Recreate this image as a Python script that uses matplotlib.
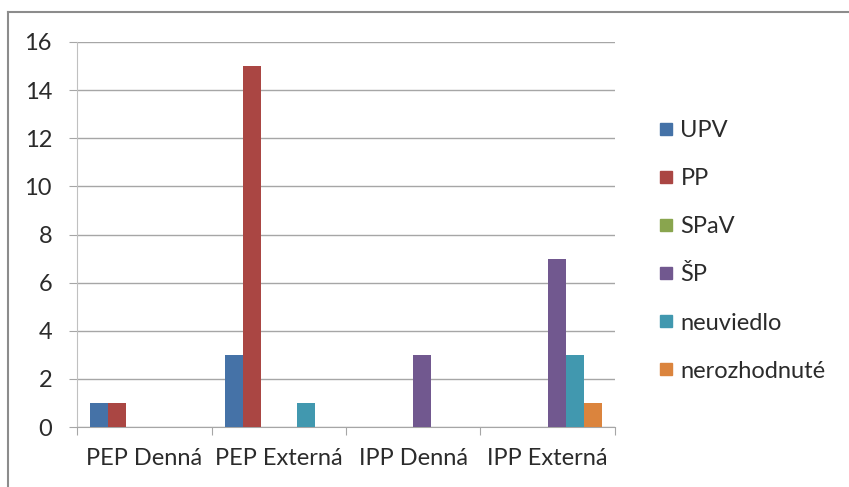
import numpy as np
import matplotlib.pyplot as plt
from matplotlib.lines import Line2D

plt.rcParams['font.family'] = ['Lato', 'DejaVu Sans']

categories = ['PEP Denná', 'PEP Externá', 'IPP Denná', 'IPP Externá']
series = ['UPV', 'PP', 'SPaV', 'ŠP', 'neuviedlo', 'nerozhodnuté']
upv = [1, 3, 0, 0]
pp = [1, 15, 0, 0]
spav = [0, 0, 0, 0]
sp = [0, 0, 3, 7]
neuviedlo = [0, 1, 0, 3]
nerozhodnute = [0, 0, 0, 1]
values = [upv, pp, spav, sp, neuviedlo, nerozhodnute]
colors = ['#4572A7', '#AA4643', '#89A54E', '#71588F', '#4198AF', '#DB843D']

fig = plt.figure(figsize=(8.49, 4.87), dpi=100)
ax = fig.add_axes([77 / 849, 60 / 487, 538 / 849, 385 / 487])

# Excel style: gap width 150% -> 6 bars + 1.5 bar gap per category
bar_w = 1 / 7.5
x = np.arange(len(categories))
for i, (name, vals) in enumerate(zip(series, values)):
    offs = (i - 2.5) * bar_w
    ax.bar(x + offs, vals, width=bar_w, color=colors[i], label=name, zorder=3)

ax.set_xlim(-0.5, len(categories) - 0.5)
ax.set_ylim(0, 16)
ax.set_yticks(range(0, 17, 2))
ax.yaxis.grid(True, color='#A6A6A6', linewidth=1.0, zorder=0)

# category boundaries as ticks, labels centred
ax.set_xticks(np.arange(-0.5, len(categories)), minor=False)
ax.set_xticklabels([])
ax.set_xticks(x, minor=True)
ax.set_xticklabels(categories, minor=True)
fs = 17
ax.tick_params(axis='x', which='minor', length=0, pad=15, labelsize=fs, labelcolor='#2b2b2b')
ax.tick_params(axis='x', which='major', length=6, color='#A6A6A6', direction='out')
ax.tick_params(axis='y', length=6, color='#A6A6A6', labelsize=fs, labelcolor='#2b2b2b', pad=12)

for s in ['top', 'right']:
    ax.spines[s].set_visible(False)
ax.spines['left'].set_color('#C0C0C0')
ax.spines['bottom'].set_color('#A6A6A6')

handles = [Line2D([0], [0], marker='s', linestyle='none', markersize=9,
                  markerfacecolor=c, markeredgecolor=c) for c in colors]
leg = fig.legend(handles, series, loc='upper left', bbox_to_anchor=(658 / 849, 1 - 120 / 487),
                 frameon=False, fontsize=fs, labelspacing=1.15, handletextpad=0.25,
                 handlelength=0.7, borderaxespad=0, borderpad=0)
for t in leg.get_texts():
    t.set_color('#2b2b2b')

# outer chart border (only top and left visible)
fig.add_artist(Line2D([7.5 / 849, 7.5 / 849], [0, 1 - 11.5 / 487], color='#8C8C8C', lw=1.5))
fig.add_artist(Line2D([7.5 / 849, 1], [1 - 11.5 / 487, 1 - 11.5 / 487], color='#8C8C8C', lw=1.5))

fig.savefig('out.png', dpi=100)
